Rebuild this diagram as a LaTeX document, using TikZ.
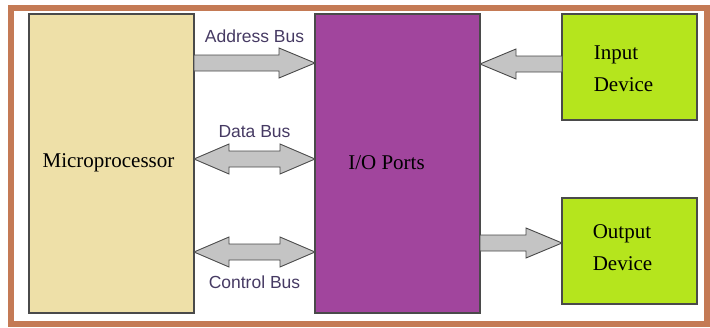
\documentclass[tikz,border=0pt]{standalone}
\usepackage{fontspec}
\setmainfont{Liberation Serif}
\setsansfont{Liberation Sans}
\usepackage{tikz}
\usetikzlibrary{positioning,calc}

\definecolor{rahmen}{HTML}{C47A55}
\definecolor{cpugelb}{HTML}{EEE0A8}
\definecolor{iolila}{HTML}{A1459D}
\definecolor{geraetgruen}{HTML}{B5E51D}
\definecolor{pfeilgrau}{HTML}{C4C4C4}
\definecolor{randgrau}{HTML}{4A4A4A}
\definecolor{busschrift}{HTML}{463A63}

\tikzset{
    block/.style={draw=randgrau, line width=1.2pt, inner sep=0pt, outer sep=0pt, anchor=north west},
    bus/.style={draw=randgrau, fill=pfeilgrau, line width=0.9pt, line join=miter},
    buslabel/.style={font=\sffamily\fontsize{17.5}{20}\selectfont, text=busschrift},
    boxlabel/.style={font=\fontsize{21}{32}\selectfont, align=left}
}

% breiter Pfeil: #1 Anfang, #2 Spitze, #3 Richtung (1 = nach rechts, -1 = nach links)
\newcommand{\buspfeil}[3]{%
    \draw[bus] ($(#1)+(0,-8)$) -- ($(#2)+({-(#3)*36},-8)$) -- ++(0,-7) -- (#2)
        -- ($(#2)+({-(#3)*36},15)$) -- ++(0,-7) -- ($(#1)+(0,8)$) -- cycle;}
% breiter Doppelpfeil: #1 linke Spitze, #2 rechte Spitze
\newcommand{\doppelpfeil}[2]{%
    \draw[bus] (#1) -- ($(#1)+(35,-15)$) -- ++(0,7) -- ($(#2)+(-35,-8)$) -- ++(0,-7) -- (#2)
        -- ($(#2)+(-35,15)$) -- ++(0,-7) -- ($(#1)+(35,8)$) -- ++(0,7) -- cycle;}

\begin{document}
\begin{tikzpicture}[x=1pt, y=-1pt]

    \useasboundingbox (0,0) rectangle (710,327);

    % Rahmen
    \draw[rahmen, line width=6pt] (11,8) rectangle (706.5,324);

    % Bloecke
    \node[block, fill=cpugelb, minimum width=165, minimum height=299] (cpu) at (29,14) {};
    \node[block, fill=iolila, minimum width=165, minimum height=299] (io) at (315,14) {};
    \node[block, fill=geraetgruen, minimum width=135, minimum height=106] (input) at (562,14) {};
    \node[block, fill=geraetgruen, minimum width=135, minimum height=106] (output) at (562,198) {};

    % Beschriftungen
    \node[boxlabel] at ($(cpu.center)+(-3,-1)$) {Microprocessor};
    \node[boxlabel] at ($(io.center)+(-11,-1)$) {I/O Ports};
    \node[boxlabel] at ($(input.center)+(-6,2)$) {Input\\Device};
    \node[boxlabel] at ($(output.center)+(-7,-3)$) {Output\\Device};

    % Anschlusspunkte
    \coordinate (abusA) at (cpu.east |- 0,63);
    \coordinate (abusB) at (io.west |- 0,63);
    \coordinate (dbusA) at (cpu.east |- 0,159);
    \coordinate (dbusB) at (io.west |- 0,159);
    \coordinate (cbusA) at (cpu.east |- 0,252);
    \coordinate (cbusB) at (io.west |- 0,252);
    \coordinate (inA) at (input.west |- 0,64);
    \coordinate (inB) at (io.east |- 0,64);
    \coordinate (outA) at (io.east |- 0,243);
    \coordinate (outB) at (output.west |- 0,243);

    % Adressbus
    \buspfeil{abusA}{abusB}{1}
    \node[buslabel] at ($(abusA)!0.5!(abusB)+(0,-27)$) {Address Bus};

    % Datenbus
    \doppelpfeil{dbusA}{dbusB}
    \node[buslabel] at ($(dbusA)!0.5!(dbusB)+(0,-27)$) {Data Bus};

    % Steuerbus
    \doppelpfeil{cbusA}{cbusB}
    \node[buslabel] at ($(cbusA)!0.5!(cbusB)+(0,30)$) {Control Bus};

    % Ein- und Ausgabe
    \buspfeil{inA}{inB}{-1}
    \buspfeil{outA}{outB}{1}

\end{tikzpicture}
\end{document}
